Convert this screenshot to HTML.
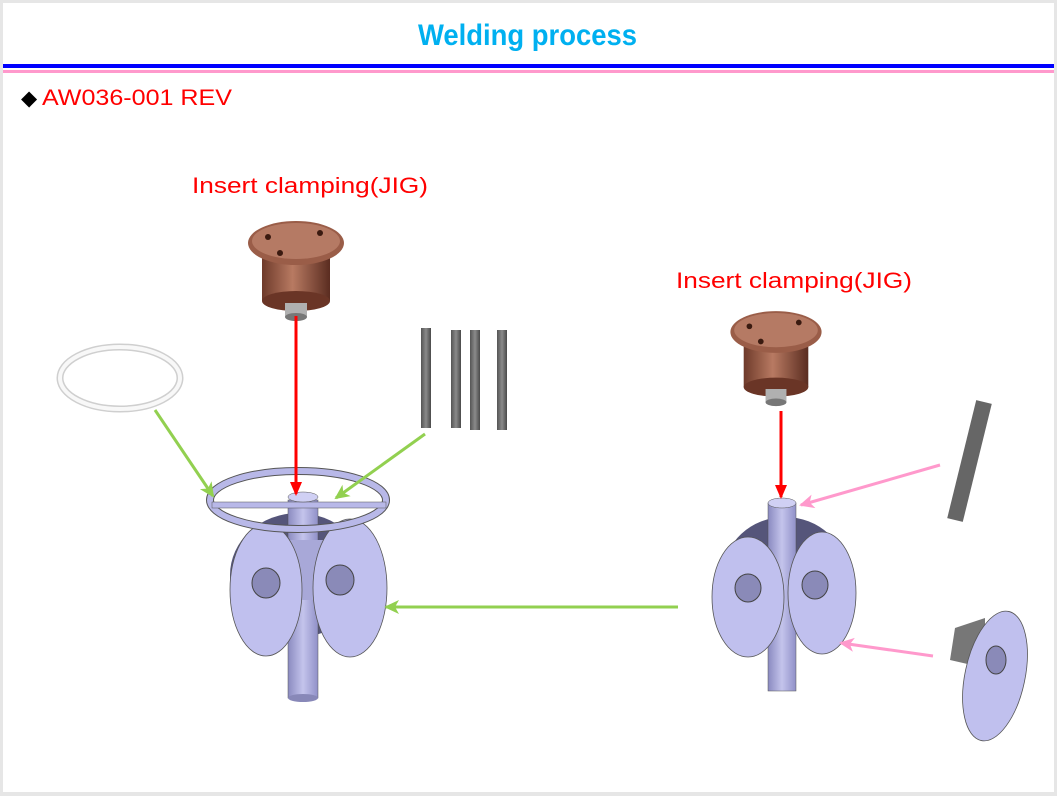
<!DOCTYPE html>
<html><head><style>
html,body{margin:0;padding:0;background:#fff}
svg{display:block}
text{font-family:"Liberation Sans",sans-serif}
</style></head><body>
<svg width="1057" height="796" viewBox="0 0 1057 796" xmlns="http://www.w3.org/2000/svg">
<defs>
<linearGradient id="cu" x1="0" x2="1"><stop offset="0" stop-color="#6e3a2a"/><stop offset="0.45" stop-color="#b87a62"/><stop offset="1" stop-color="#5a2c20"/></linearGradient>
<linearGradient id="pole" x1="0" x2="1"><stop offset="0" stop-color="#8a8ac0"/><stop offset="0.5" stop-color="#c4c4ec"/><stop offset="1" stop-color="#9090c8"/></linearGradient>
<linearGradient id="rod" x1="0" x2="1"><stop offset="0" stop-color="#555"/><stop offset="0.5" stop-color="#8a8a8a"/><stop offset="1" stop-color="#4a4a4a"/></linearGradient>
<marker id="r" markerWidth="14" markerHeight="14" refX="12" refY="7" orient="auto" markerUnits="userSpaceOnUse"><path d="M0,1 L14,7 L0,13 z" fill="#ff0000"/></marker>
<marker id="g" markerWidth="16" markerHeight="16" refX="13" refY="8" orient="auto" markerUnits="userSpaceOnUse"><path d="M0,1 L15,8 L0,15 L4,8 z" fill="#92d050"/></marker>
<marker id="p" markerWidth="16" markerHeight="16" refX="13" refY="8" orient="auto" markerUnits="userSpaceOnUse"><path d="M0,1 L15,8 L0,15 L4,8 z" fill="#ff99cc"/></marker>
<g id="jig">
<rect x="-34" y="0" width="68" height="58" fill="url(#cu)"/>
<ellipse cx="0" cy="58" rx="34" ry="10" fill="#6a3526"/>
<ellipse cx="0" cy="0" rx="48" ry="22" fill="#9a5d48"/>
<ellipse cx="0" cy="-2" rx="44" ry="18" fill="#b57a64"/>
<circle cx="-28" cy="-6" r="3" fill="#3a1a10"/><circle cx="24" cy="-10" r="3" fill="#3a1a10"/><circle cx="-16" cy="10" r="3" fill="#3a1a10"/>
<rect x="-11" y="60" width="22" height="14" fill="#b0b0b0"/>
<ellipse cx="0" cy="74" rx="11" ry="4" fill="#777"/>
</g>
</defs>
<rect x="0" y="0" width="1057" height="796" fill="#e6e6e6"/>
<rect x="3" y="3" width="1051" height="789" fill="#fff"/>
<text x="418" y="45" font-size="30" font-weight="bold" fill="#00b0f0" textLength="219" lengthAdjust="spacingAndGlyphs">Welding process</text>
<rect x="3" y="64" width="1051" height="4" fill="#0000ff"/>
<rect x="3" y="70" width="1051" height="3" fill="#ff99cc"/>
<text x="21" y="105" font-size="21" fill="#000">◆</text>
<text x="42" y="105" font-size="22" fill="#ff0000" textLength="190" lengthAdjust="spacingAndGlyphs">AW036-001 REV</text>
<text x="192" y="193" font-size="22" fill="#ff0000" textLength="236" lengthAdjust="spacingAndGlyphs">Insert clamping(JIG)</text>
<text x="676" y="288" font-size="22" fill="#ff0000" textLength="236" lengthAdjust="spacingAndGlyphs">Insert clamping(JIG)</text>

<use href="#jig" x="296" y="243"/>
<use href="#jig" x="776" y="332" transform="translate(776 332) scale(0.95) translate(-776 -332)"/>

<ellipse cx="120" cy="378" rx="60" ry="31" fill="none" stroke="#cfcfcf" stroke-width="7"/>
<ellipse cx="120" cy="378" rx="60" ry="31" fill="none" stroke="#f8f8f8" stroke-width="4"/>
<g fill="url(#rod)">
<rect x="421" y="328" width="10" height="100"/><rect x="451" y="330" width="10" height="98"/>
<rect x="470" y="330" width="10" height="100"/><rect x="497" y="330" width="10" height="100"/>
</g>

<ellipse cx="298" cy="575" rx="68" ry="62" fill="#55557a"/>
<rect x="288" y="500" width="30" height="198" fill="url(#pole)" stroke="#555" stroke-width="0.5"/>
<ellipse cx="303" cy="698" rx="15" ry="4" fill="#8888b8"/>
<path d="M270 540 L335 540 L318 600 L290 600 z" fill="#a8a8d8"/>
<ellipse cx="266" cy="590" rx="36" ry="66" fill="#c0c0ee" stroke="#555" stroke-width="0.8"/>
<ellipse cx="350" cy="588" rx="37" ry="69" fill="#c0c0ee" stroke="#555" stroke-width="0.8"/>
<ellipse cx="266" cy="583" rx="14" ry="15" fill="#8a8ab8" stroke="#444"/>
<ellipse cx="340" cy="580" rx="14" ry="15" fill="#8a8ab8" stroke="#444"/>
<ellipse cx="298" cy="500" rx="88" ry="29" fill="none" stroke="#555" stroke-width="8"/>
<ellipse cx="298" cy="500" rx="88" ry="29" fill="none" stroke="#b8b8e8" stroke-width="6"/>
<rect x="212" y="502" width="174" height="6" fill="#b8b8e8" stroke="#555" stroke-width="0.5"/>
<ellipse cx="303" cy="497" rx="15" ry="5" fill="#d0d0f4" stroke="#555" stroke-width="0.5"/>

<ellipse cx="785" cy="575" rx="62" ry="58" fill="#55557a"/>
<rect x="768" y="503" width="28" height="188" fill="url(#pole)" stroke="#555" stroke-width="0.5"/>
<ellipse cx="782" cy="503" rx="14" ry="5" fill="#d0d0f4" stroke="#555" stroke-width="0.5"/>
<ellipse cx="748" cy="597" rx="36" ry="60" fill="#c0c0ee" stroke="#555" stroke-width="0.8"/>
<ellipse cx="822" cy="593" rx="34" ry="61" fill="#c0c0ee" stroke="#555" stroke-width="0.8"/>
<ellipse cx="748" cy="588" rx="13" ry="14" fill="#8a8ab8" stroke="#444"/>
<ellipse cx="815" cy="585" rx="13" ry="14" fill="#8a8ab8" stroke="#444"/>

<line x1="984" y1="402" x2="955" y2="520" stroke="#666" stroke-width="16"/>
<path d="M955 628 L985 618 L985 668 L950 660 z" fill="#777"/>
<ellipse cx="995" cy="676" rx="30" ry="66" transform="rotate(12 995 676)" fill="#c0c0ee" stroke="#555" stroke-width="0.8"/>
<ellipse cx="996" cy="660" rx="10" ry="14" fill="#8a8ab8" stroke="#444"/>

<g stroke-width="3" fill="none">
<line x1="296" y1="316" x2="296" y2="494" stroke="#ff0000" marker-end="url(#r)"/>
<line x1="781" y1="411" x2="781" y2="497" stroke="#ff0000" marker-end="url(#r)"/>
<line x1="155" y1="410" x2="213" y2="496" stroke="#92d050" marker-end="url(#g)"/>
<line x1="425" y1="434" x2="336" y2="498" stroke="#92d050" marker-end="url(#g)"/>
<line x1="678" y1="607" x2="386" y2="607" stroke="#92d050" marker-end="url(#g)"/>
<line x1="940" y1="465" x2="801" y2="505" stroke="#ff99cc" marker-end="url(#p)"/>
<line x1="933" y1="656" x2="841" y2="643" stroke="#ff99cc" marker-end="url(#p)"/>
</g>
</svg>
</body></html>
